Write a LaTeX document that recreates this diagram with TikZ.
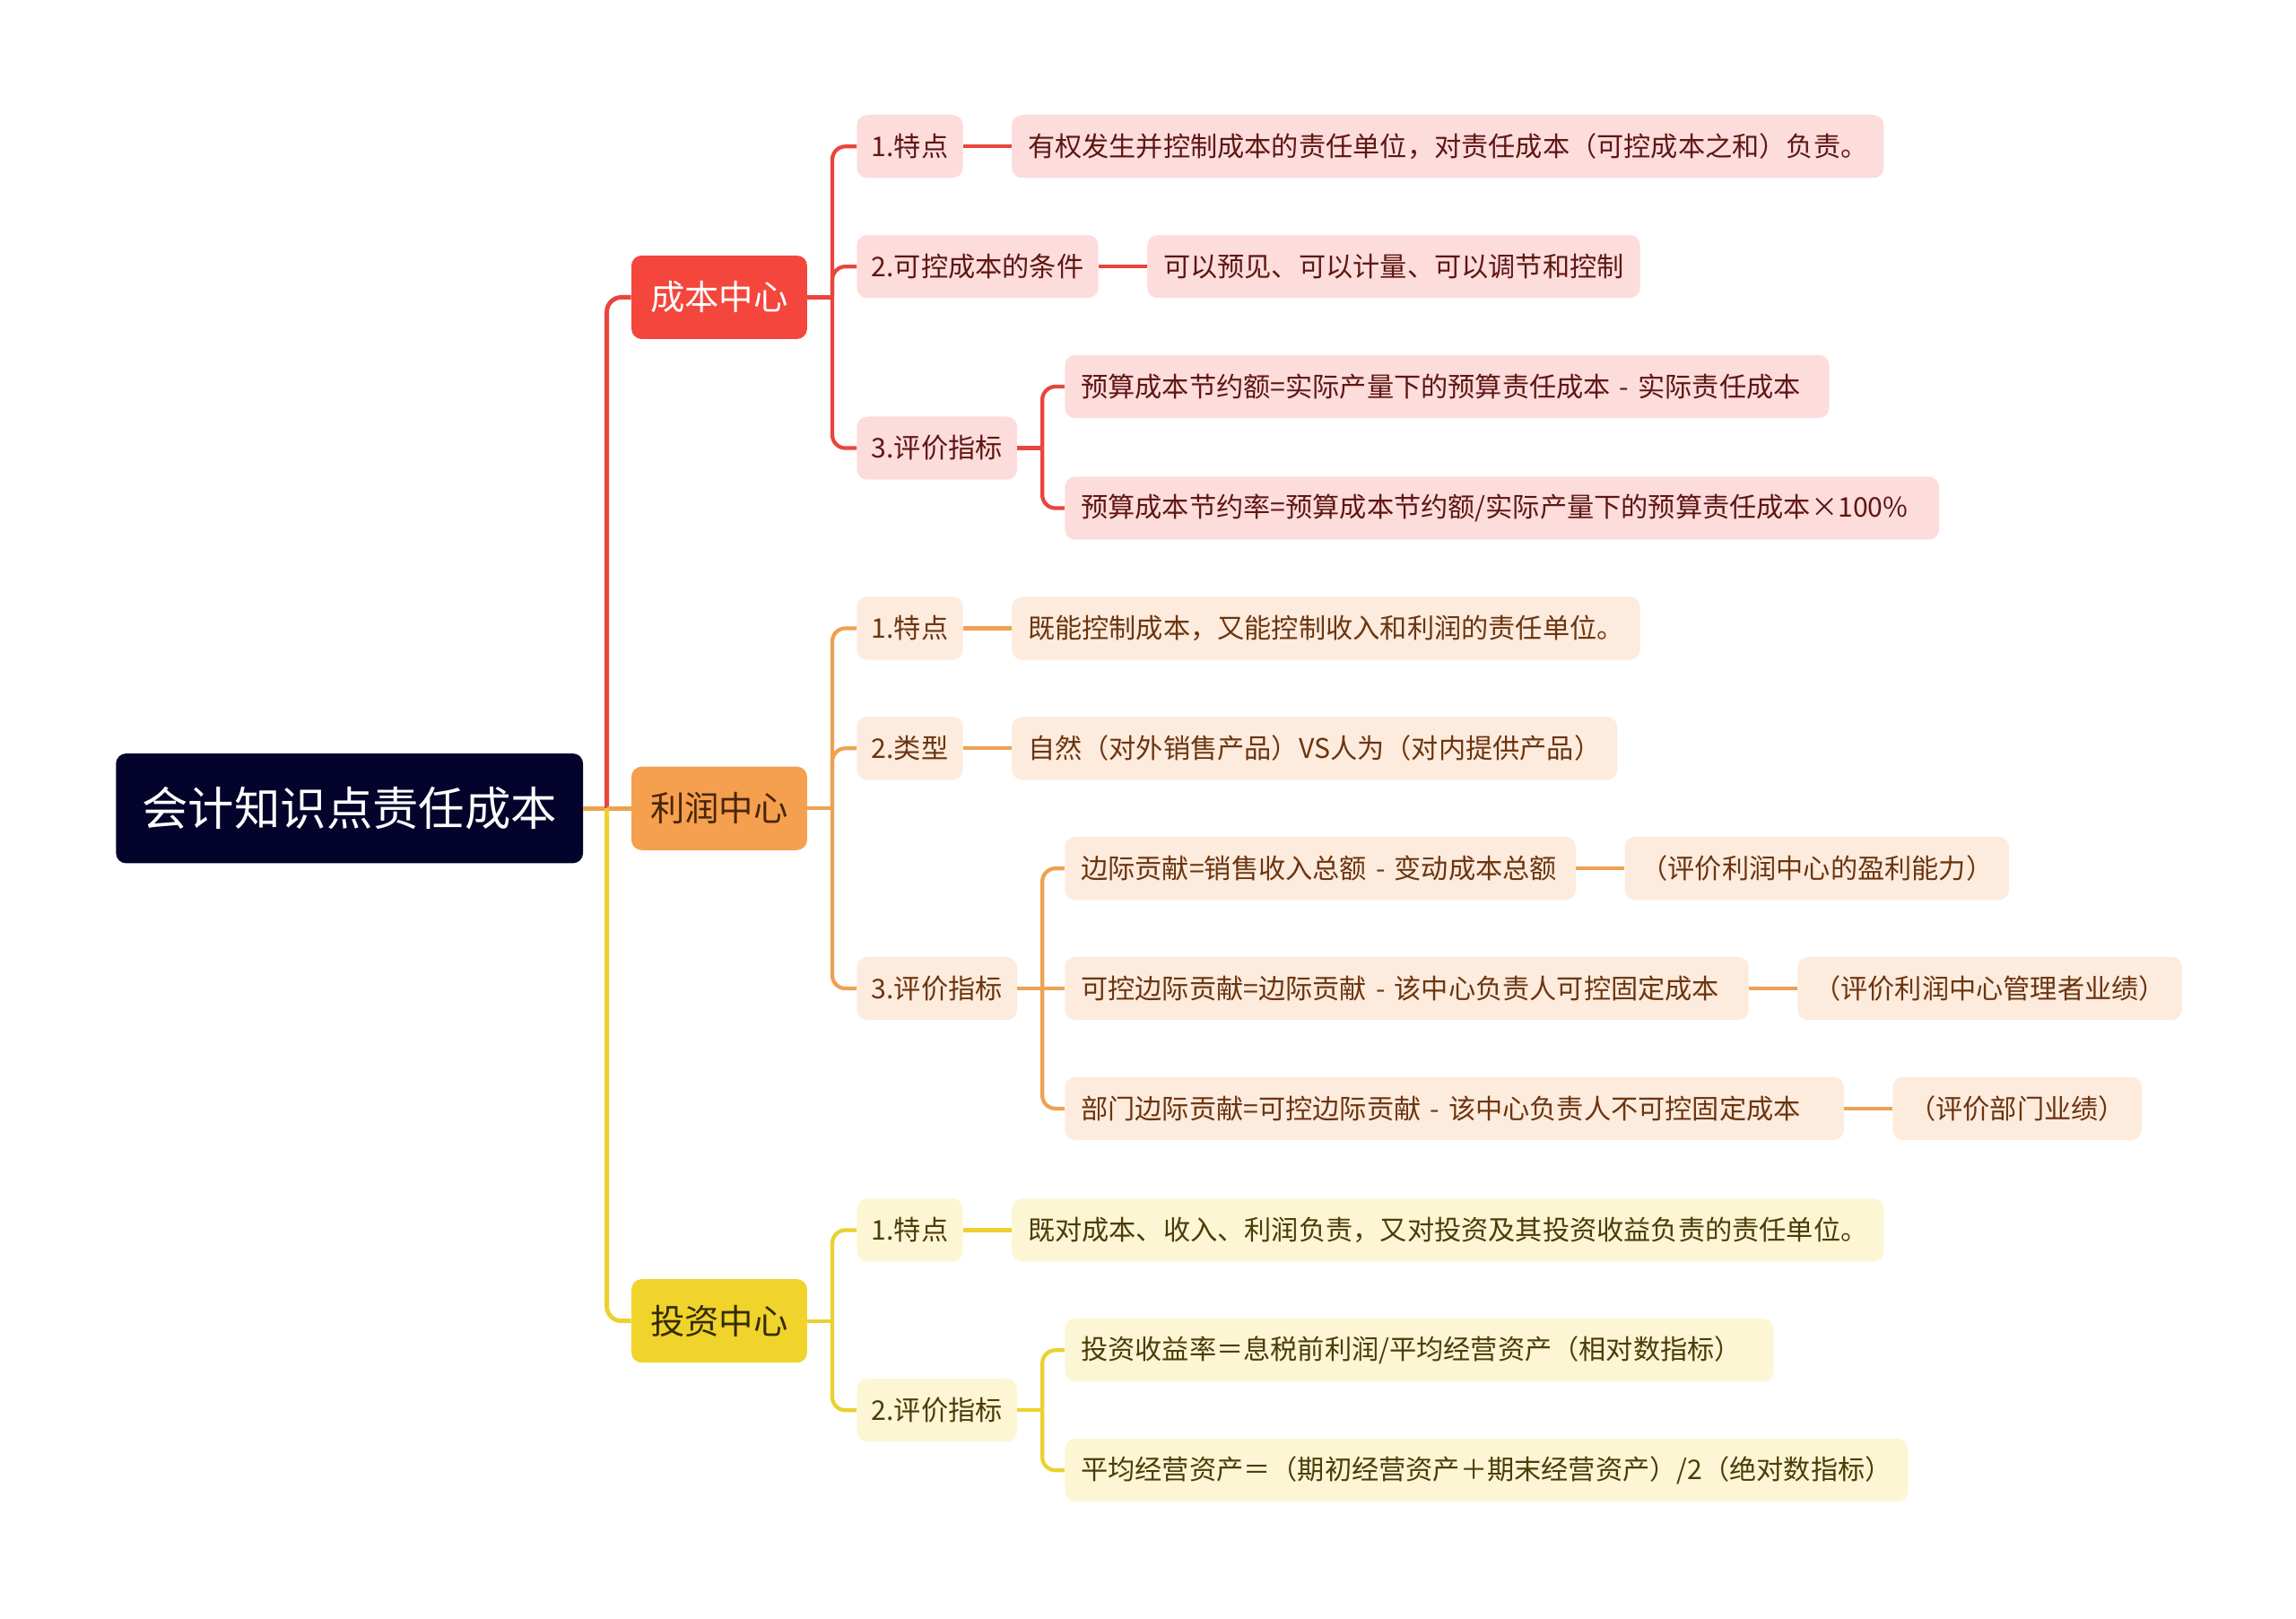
\documentclass[tikz,border=0pt]{standalone}
\usepackage{fontspec}
\setmainfont{Noto Sans CJK SC}
\usetikzlibrary{positioning}

\definecolor{rootbg}{HTML}{03032B}
\definecolor{costmain}{HTML}{F4463D}
\definecolor{costline}{HTML}{E8463D}
\definecolor{costlight}{HTML}{FDDCDC}
\definecolor{costdark}{HTML}{5E1712}
\definecolor{profitmain}{HTML}{F5A04F}
\definecolor{profitline}{HTML}{EFA152}
\definecolor{profitlight}{HTML}{FDEBDD}
\definecolor{profitdark}{HTML}{6B3510}
\definecolor{investmain}{HTML}{F0D32B}
\definecolor{investline}{HTML}{ECD02E}
\definecolor{investlight}{HTML}{FDF6D5}
\definecolor{investdark}{HTML}{4B3C08}

\begin{document}
\begin{tikzpicture}[
    x=1pt, y=-1pt,
    node distance=33pt,
    every node/.style={font=\fontsize{18.5}{22}\selectfont},
    rootnode/.style={rectangle, rounded corners=7pt, fill=rootbg, text=white, anchor=west,
        minimum height=75pt, minimum width=319pt, font=\fontsize{31.5}{36}\selectfont},
    topic/.style={rectangle, rounded corners=7pt, anchor=west,
        minimum height=57pt, inner xsep=13pt, font=\fontsize{23.5}{28}\selectfont},
    sub/.style={rectangle, rounded corners=7pt, anchor=west, minimum height=43pt, inner xsep=10pt},
    leaf/.style={sub, inner xsep=11pt},
    longleaf/.style={leaf, text width=#1, align=left},
    costsub/.style={fill=costlight, text=costdark},
    profitsub/.style={fill=profitlight, text=profitdark},
    investsub/.style={fill=investlight, text=investdark},
    trunk/.style={line width=3pt, rounded corners=10pt},
    link/.style={line width=2.6pt, rounded corners=9pt},
]
\useasboundingbox (0,0) rectangle (1568,1105);

% root and centres
\node[rootnode] (root) at (79,552) {会计知识点责任成本};
\node[topic, fill=costmain, text=white] (cost) at (431,203) {成本中心};
\node[topic, fill=profitmain, text=profitdark!70!black] (profit) at (431,552) {利润中心};
\node[topic, fill=investmain, text=investdark!70!black] (invest) at (431,902) {投资中心};

% cost centre
\node[sub, costsub] (c1) at (585,100) {1.特点};
\node[leaf, costsub, right=of c1] (c1a) {有权发生并控制成本的责任单位，对责任成本（可控成本之和）负责。};
\node[sub, costsub] (c2) at (585,182) {2.可控成本的条件};
\node[leaf, costsub, right=of c2] (c2a) {可以预见、可以计量、可以调节和控制};
\node[sub, costsub] (c3) at (585,306) {3.评价指标};
\node[longleaf=500pt, costsub] (c3a) at (727,264) {预算成本节约额=实际产量下的预算责任成本 - 实际责任成本};
\node[longleaf=575pt, costsub] (c3b) at (727,347) {预算成本节约率=预算成本节约额/实际产量下的预算责任成本×100\%};

% profit centre
\node[sub, profitsub] (p1) at (585,429) {1.特点};
\node[leaf, profitsub, right=of p1] (p1a) {既能控制成本，又能控制收入和利润的责任单位。};
\node[sub, profitsub] (p2) at (585,511) {2.类型};
\node[leaf, profitsub, right=of p2] (p2a) {自然（对外销售产品）VS人为（对内提供产品）};
\node[sub, profitsub] (p3) at (585,675) {3.评价指标};
\node[longleaf=327pt, profitsub] (p3a) at (727,593) {边际贡献=销售收入总额 - 变动成本总额};
\node[leaf, profitsub, right=of p3a] (p3ax) {（评价利润中心的盈利能力）};
\node[longleaf=445pt, profitsub] (p3b) at (727,675) {可控边际贡献=边际贡献 - 该中心负责人可控固定成本};
\node[leaf, profitsub, right=of p3b] (p3bx) {（评价利润中心管理者业绩）};
\node[longleaf=510pt, profitsub] (p3c) at (727,757) {部门边际贡献=可控边际贡献 - 该中心负责人不可控固定成本};
\node[leaf, profitsub, right=of p3c] (p3cx) {（评价部门业绩）};

% investment centre
\node[sub, investsub] (i1) at (585,840) {1.特点};
\node[leaf, investsub, right=of i1] (i1a) {既对成本、收入、利润负责，又对投资及其投资收益负责的责任单位。};
\node[sub, investsub] (i2) at (585,963) {2.评价指标};
\node[longleaf=462pt, investsub] (i2a) at (727,922) {投资收益率＝息税前利润/平均经营资产（相对数指标）};
\node[leaf, investsub] (i2b) at (727,1004) {平均经营资产＝（期初经营资产＋期末经营资产）/2（绝对数指标）};

% trunk
\draw[trunk, profitline] (root.east) -- ++(16,0) coordinate (rootbus);
\draw[trunk, costline] (rootbus) |- (cost.west);
\draw[trunk, profitline] (rootbus) -- (profit.west);
\draw[trunk, investline] (rootbus) |- (invest.west);

% cost links
\draw[link, costline] (cost.east) -- ++(17,0) coordinate (costbus);
\draw[link, costline] (costbus) |- (c1.west);
\draw[link, costline] (costbus) |- (c2.west);
\draw[link, costline] (costbus) |- (c3.west);
\draw[link, costline] (c1) -- (c1a);
\draw[link, costline] (c2) -- (c2a);
\draw[link, costline] (c3.east) -- ++(17,0) coordinate (c3bus);
\draw[link, costline] (c3bus) |- (c3a.west);
\draw[link, costline] (c3bus) |- (c3b.west);

% profit links
\draw[link, profitline] (profit.east) -- ++(17,0) coordinate (profitbus);
\draw[link, profitline] (profitbus) |- (p1.west);
\draw[link, profitline] (profitbus) |- (p2.west);
\draw[link, profitline] (profitbus) |- (p3.west);
\draw[link, profitline] (p1) -- (p1a);
\draw[link, profitline] (p2) -- (p2a);
\draw[link, profitline] (p3) -- (p3b);
\draw[link, profitline] (p3.east) -- ++(17,0) coordinate (p3bus);
\draw[link, profitline] (p3bus) |- (p3a.west);
\draw[link, profitline] (p3bus) |- (p3c.west);
\draw[link, profitline] (p3a) -- (p3ax);
\draw[link, profitline] (p3b) -- (p3bx);
\draw[link, profitline] (p3c) -- (p3cx);

% investment links
\draw[link, investline] (invest.east) -- ++(17,0) coordinate (investbus);
\draw[link, investline] (investbus) |- (i1.west);
\draw[link, investline] (investbus) |- (i2.west);
\draw[link, investline] (i1) -- (i1a);
\draw[link, investline] (i2.east) -- ++(17,0) coordinate (i2bus);
\draw[link, investline] (i2bus) |- (i2a.west);
\draw[link, investline] (i2bus) |- (i2b.west);

\end{tikzpicture}
\end{document}
